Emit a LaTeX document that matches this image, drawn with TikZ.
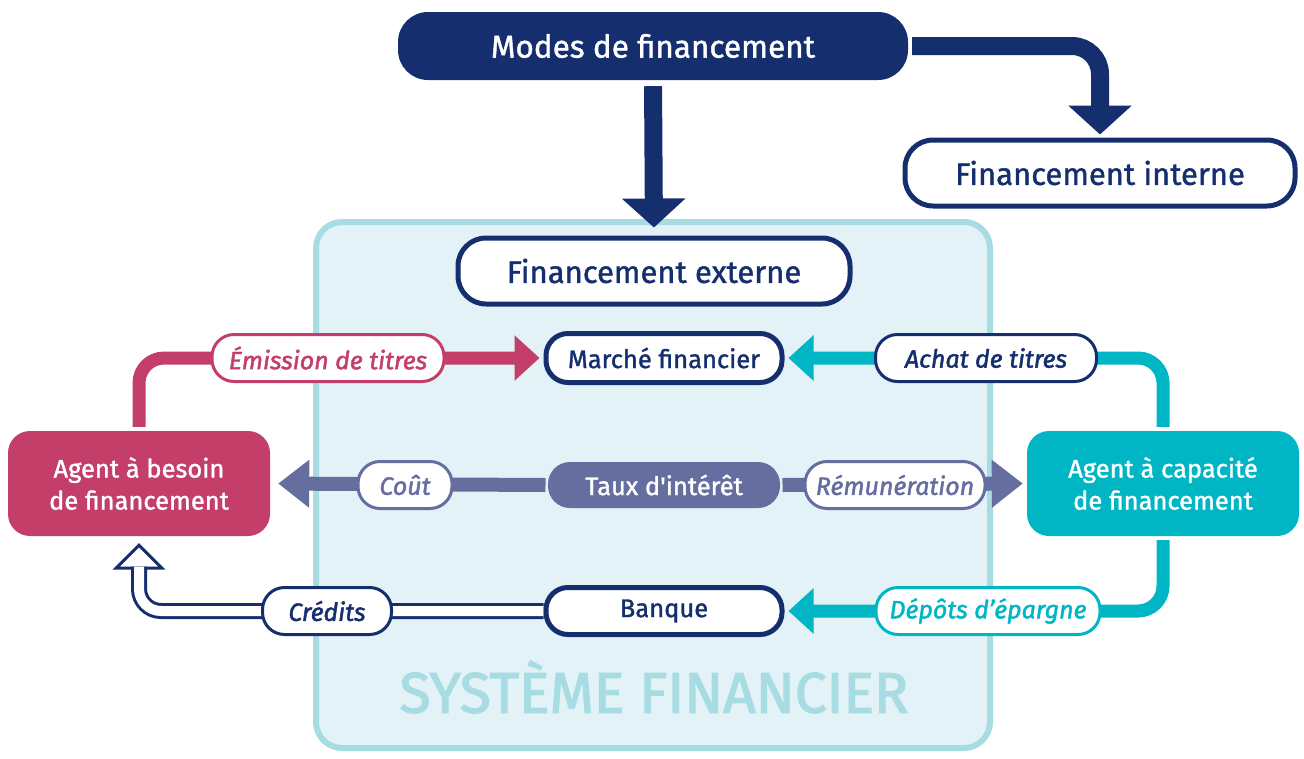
\documentclass[tikz,border=0pt]{standalone}
\usepackage{fontspec}
\setmainfont{Fira Sans}
\newfontfamily\medfont{Fira Sans}[FakeBold=1.3]
\newfontfamily\labfont{Fira Sans}[FakeBold=1.8]
\newfontfamily\sysfont{Fira Sans}[FakeBold=2.2]
\usetikzlibrary{arrows.meta,calc}
\definecolor{navy}{RGB}{21,46,110}
\definecolor{rose}{RGB}{195,63,106}
\definecolor{tealc}{RGB}{0,182,196}
\definecolor{slate}{RGB}{102,110,160}
\definecolor{sysfill}{RGB}{226,242,246}
\definecolor{sysline}{RGB}{168,220,227}
\pgfdeclarelayer{back}\pgfdeclarelayer{bg}
\pgfsetlayers{back,bg,main}
\tikzset{
  topbox/.style={fill=navy, text=white, rounded corners=30pt, minimum width=510pt, minimum height=68pt, inner sep=0pt, font=\medfont\fontsize{31.5}{36}\selectfont},
  outbox/.style={draw=navy, line width=5pt, fill=white, text=navy, rounded corners=28pt, minimum height=66pt, inner sep=0pt, font=\medfont\fontsize{31}{36}\selectfont},
  midbox/.style={draw=navy, line width=5pt, fill=white, text=navy, rounded corners=22pt, minimum width=236pt, minimum height=49pt, inner sep=0pt, font=\medfont\fontsize{25.5}{30}\selectfont},
  agentbox/.style={rounded corners=22pt, minimum height=105pt, inner sep=0pt, text=white, align=center, font=\medfont\fontsize{25.5}{32}\selectfont},
  lab/.style={draw=#1, text=#1, fill=white, line width=3pt, rounded corners=22pt, minimum height=47pt, inner sep=0pt, font=\labfont\fontsize{25}{30}\selectfont\itshape},
  flow/.style={draw=#1, line width=13pt, rounded corners=25pt, -{Triangle[length=25pt,width=44pt]}},
  slateflow/.style={draw=slate, line width=14pt, -{Triangle[length=31pt,width=46pt]}},
  navyflow/.style={draw=navy, line width=18pt, -{Triangle[length=29pt,width=62pt]}},
}
\begin{document}
\begin{tikzpicture}[x=1pt,y=-1pt]
\useasboundingbox (0,0) rectangle (1304,758);
\begin{pgfonlayer}{back}
\draw[sysline, fill=sysfill, line width=6pt, rounded corners=26pt] (316,222) rectangle (990,748);
\end{pgfonlayer}
\node[text=sysline, font=\sysfont\fontsize{57}{62}\selectfont] (sys) at (654,687) {SYSTÈME FINANCIER};

\node[topbox] (modes) at (653,46) {Modes de financement};
\node[outbox, minimum width=390pt] (interne) at (1100,173) {Financement interne};
\node[outbox, minimum width=392pt] (externe) at (654,271) {Financement externe};

\node[midbox] (march) at (664,358) {Marché financier};
\node[midbox, draw=none, fill=slate, text=white, minimum width=232pt, minimum height=46pt] (taux) at (664,485) {Taux d\textquotesingle intérêt};
\node[midbox, minimum height=47pt] (banque) at (664,611) {Banque};

\node[agentbox, fill=rose, minimum width=262pt] (besoin) at (139,483.5) {Agent à besoin\\de financement};
\node[agentbox, fill=tealc, minimum width=272pt] (cap) at (1163,483.5) {Agent à capacité\\de financement};

\node[lab=rose, minimum width=232pt] (emis) at (328,358) {Émission de titres};
\node[lab=navy, minimum width=221pt] (achat) at (986,358) {Achat de titres};
\node[lab=slate, minimum width=94pt] (cout) at (405,485) {Coût};
\node[lab=slate, minimum width=180pt] (remu) at (895,485) {Rémunération};
\node[lab=tealc, minimum width=224pt] (depot) at (988,611) {Dépôts d’épargne};
\node[lab=navy, minimum width=129pt] (credit) at (327,611) {Crédits};

\begin{pgfonlayer}{bg}
\draw[navyflow, shorten <=6pt, shorten >=8pt] (modes.south) -- (externe.north);
\draw[navyflow, rounded corners=28pt, shorten <=4pt, shorten >=3pt] (modes.east) -| (interne.north);
\draw[flow=rose, shorten <=4pt, shorten >=4pt] (besoin.north) |- (march.west);
\draw[flow=tealc, shorten <=4pt, shorten >=4pt] (cap.north) |- (march.east);
\draw[flow=tealc, shorten <=4pt, shorten >=4pt] (cap.south) |- (banque.east);
\draw[slateflow, shorten >=8pt] (taux.west) -- (besoin.east);
\draw[slateflow, shorten >=4pt] (taux.east) -- (cap.west);
\coordinate (credtip) at ($(besoin.south)+(0,9)$);
\coordinate (credbase) at ($(besoin.south)+(0,30.5)$);
\draw[navy, line width=3pt, fill=white, line join=miter] (credtip) -- ++(-23,23) -- ++(46,0) -- cycle;
\draw[draw=navy, line width=3pt, double=white, double distance=10pt, rounded corners=22pt] (banque.west) -| (credbase);
\end{pgfonlayer}
\end{tikzpicture}
\end{document}
